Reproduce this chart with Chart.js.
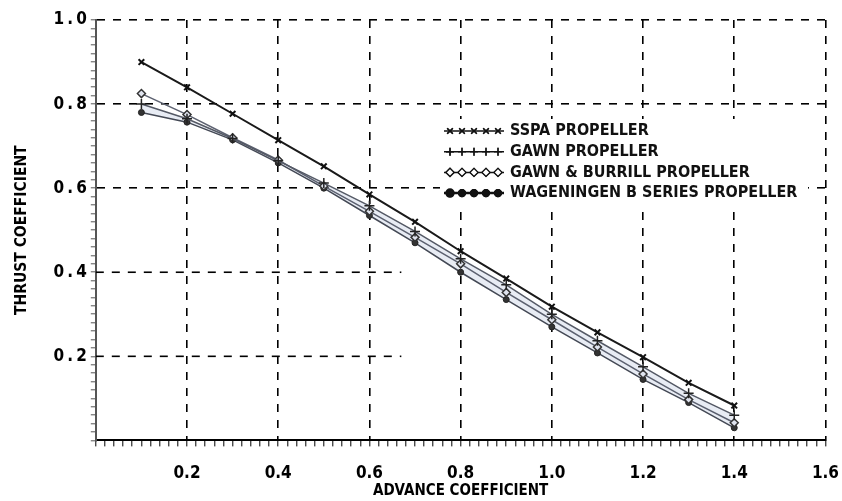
<!DOCTYPE html>
<html>
<head>
<meta charset="utf-8">
<script src="https://cdn.jsdelivr.net/npm/chart.js@4.4.0/dist/chart.umd.min.js"></script>
<style>
  html, body { margin: 0; padding: 0; background: #fff; }
  #wrap { width: 842px; height: 501px; }
</style>
</head>
<body>
<div id="wrap"><canvas id="thrustChart" width="842" height="501"></canvas></div>
<script>
// advance coefficient J at each measured point
const advance = [0.1, 0.2, 0.3, 0.4, 0.5, 0.6, 0.7, 0.8, 0.9, 1.0, 1.1, 1.2, 1.3, 1.4];

// thrust coefficient
const sspa       = [0.900, 0.840, 0.777, 0.714, 0.652, 0.585, 0.520, 0.450, 0.385, 0.318, 0.257, 0.198, 0.137, 0.083];
const gawn       = [0.800, 0.765, 0.718, 0.665, 0.612, 0.558, 0.497, 0.432, 0.370, 0.300, 0.237, 0.175, 0.112, 0.060];
const gawnBurill = [0.825, 0.775, 0.720, 0.667, 0.605, 0.545, 0.483, 0.420, 0.352, 0.287, 0.222, 0.158, 0.097, 0.042];
const wageningen = [0.780, 0.757, 0.715, 0.660, 0.600, 0.535, 0.470, 0.400, 0.335, 0.270, 0.208, 0.145, 0.090, 0.030];

const seriesNames = ['SSPA PROPELLER', 'GAWN PROPELLER', 'GAWN & BURRILL PROPELLER', 'WAGENINGEN B SERIES PROPELLER'];

// the two lower horizontal grid lines stop short of the curves
const shortGridY = [0.2, 0.4];
const shortGridEnd = 0.67;

const FONT = "'DejaVu Sans Condensed', 'Liberation Sans Narrow', 'DejaVu Sans', sans-serif";

function pts(arr) {
  return advance.map((x, i) => ({ x: x, y: arr[i] }));
}

function isMajor(v) {
  return v > 1e-6 && Math.abs(v * 5 - Math.round(v * 5)) < 1e-6;
}

function isShort(v) {
  return shortGridY.some(s => Math.abs(s - v) < 1e-6);
}

const shortGrid = {
  id: 'shortGrid',
  beforeDatasetsDraw(chart) {
    const { ctx, scales: { x, y } } = chart;
    ctx.save();
    ctx.strokeStyle = '#000';
    ctx.lineWidth = 1.6;
    ctx.setLineDash([8, 8]);
    shortGridY.forEach(v => {
      const py = y.getPixelForValue(v);
      ctx.beginPath();
      ctx.moveTo(x.left, py);
      ctx.lineTo(x.getPixelForValue(shortGridEnd), py);
      ctx.stroke();
    });
    ctx.restore();
  }
};

// legend drawn inside the plot, on a white patch
const innerLegend = {
  id: 'innerLegend',
  afterDraw(chart) {
    const ctx = chart.ctx;
    const x0 = 444, y0 = 131, rowH = 20.7;
    ctx.save();
    ctx.fillStyle = '#fff';
    ctx.fillRect(x0 - 4, y0 - 12, 368, rowH * 4 + 4);
    chart.data.datasets.forEach((ds, i) => {
      const y = y0 + i * rowH;
      ctx.strokeStyle = '#111';
      ctx.lineWidth = i === 3 ? 2.5 : 1.5;
      ctx.beginPath();
      ctx.moveTo(x0, y);
      ctx.lineTo(x0 + 60, y);
      ctx.stroke();
      for (let k = 0; k < 5; k++) {
        Chart.helpers.drawPoint(ctx, {
          pointStyle: ds.pointStyle,
          radius: i === 3 ? 3.5 : 4,
          borderWidth: 1.5
        }, x0 + 6 + k * 12, y);
        ctx.strokeStyle = '#111';
        ctx.fillStyle = i === 3 ? '#111' : '#fff';
        ctx.lineWidth = 1.3;
        if (ds.pointStyle === 'circle' || ds.pointStyle === 'rectRot') {
          ctx.fill();
        }
        ctx.stroke();
      }
      ctx.fillStyle = '#111';
      ctx.font = 'bold 16px ' + FONT;
      ctx.textBaseline = 'middle';
      ctx.fillText(seriesNames[i], x0 + 66, y);
    });
    ctx.restore();
  }
};

const ctx = document.getElementById('thrustChart').getContext('2d');

const thrustChart = new Chart(ctx, {
  type: 'line',
  data: {
    datasets: [
      {
        label: seriesNames[0],
        data: pts(sspa),
        borderColor: '#1a1a1a',
        borderWidth: 2,
        pointStyle: 'crossRot',
        pointRadius: 4,
        pointBorderWidth: 2,
        pointBorderColor: '#111',
        fill: false
      },
      {
        label: seriesNames[1],
        data: pts(gawn),
        borderColor: '#555a66',
        borderWidth: 1.5,
        pointStyle: 'cross',
        pointRadius: 5,
        pointBorderWidth: 1.5,
        pointBorderColor: '#222',
        fill: false
      },
      {
        label: seriesNames[2],
        data: pts(gawnBurill),
        borderColor: '#5c6170',
        borderWidth: 1.5,
        pointStyle: 'rectRot',
        pointRadius: 4,
        pointBorderWidth: 1.5,
        pointBorderColor: '#333',
        pointBackgroundColor: '#dfe3ee',
        fill: false
      },
      {
        label: seriesNames[3],
        data: pts(wageningen),
        borderColor: '#444955',
        borderWidth: 1.5,
        pointStyle: 'circle',
        pointRadius: 3,
        pointBorderWidth: 1,
        pointBorderColor: '#222',
        pointBackgroundColor: '#333',
        backgroundColor: 'rgba(205,213,230,0.45)',
        fill: 1
      }
    ]
  },
  options: {
    responsive: false,
    animation: false,
    layout: { padding: { left: 13, right: 3, top: 20, bottom: 0 } },
    plugins: {
      legend: { display: false },
      tooltip: { enabled: false }
    },
    scales: {
      x: {
        type: 'linear',
        min: 0,
        max: 1.6,
        border: { color: '#000', width: 2, dash: [8, 8] },
        grid: {
          color: c => isMajor(c.tick.value) ? '#000' : 'rgba(0,0,0,0)',
          lineWidth: 1.6,
          tickColor: '#000',
          tickLength: 6,
          tickWidth: 1
        },
        ticks: {
          stepSize: 0.02,
          autoSkip: false,
          maxRotation: 0,
          color: '#000',
          padding: 3,
          font: { family: FONT, size: 17, weight: 'bold', lineHeight: 2.8 },
          callback: v => isMajor(v) ? v.toFixed(1) : ''
        },
        title: {
          display: true,
          text: 'ADVANCE COEFFICIENT',
          color: '#000',
          padding: { top: -18, bottom: 1 },
          font: { family: FONT, size: 15, weight: 'bold' }
        }
      },
      y: {
        type: 'linear',
        min: 0,
        max: 1.0,
        border: { color: '#555', width: 2, dash: [8, 8] },
        grid: {
          color: c => (isMajor(c.tick.value) && !isShort(c.tick.value)) ? '#000' : 'rgba(0,0,0,0)',
          lineWidth: 1.6,
          tickColor: '#555',
          tickLength: 5,
          tickWidth: 1
        },
        ticks: {
          stepSize: 0.02,
          autoSkip: false,
          color: '#000',
          padding: 4,
          font: { family: FONT, size: 17, weight: 'bold' },
          callback: v => isMajor(v) ? v.toFixed(1).split('').join('\u2009') : ''
        },
        title: {
          display: true,
          text: 'THRUST COEFFICIENT',
          color: '#000',
          padding: { top: 0, bottom: 18 },
          font: { family: FONT, size: 15.5, weight: 'bold' }
        }
      }
    }
  },
  plugins: [shortGrid, innerLegend]
});
</script>
</body>
</html>
